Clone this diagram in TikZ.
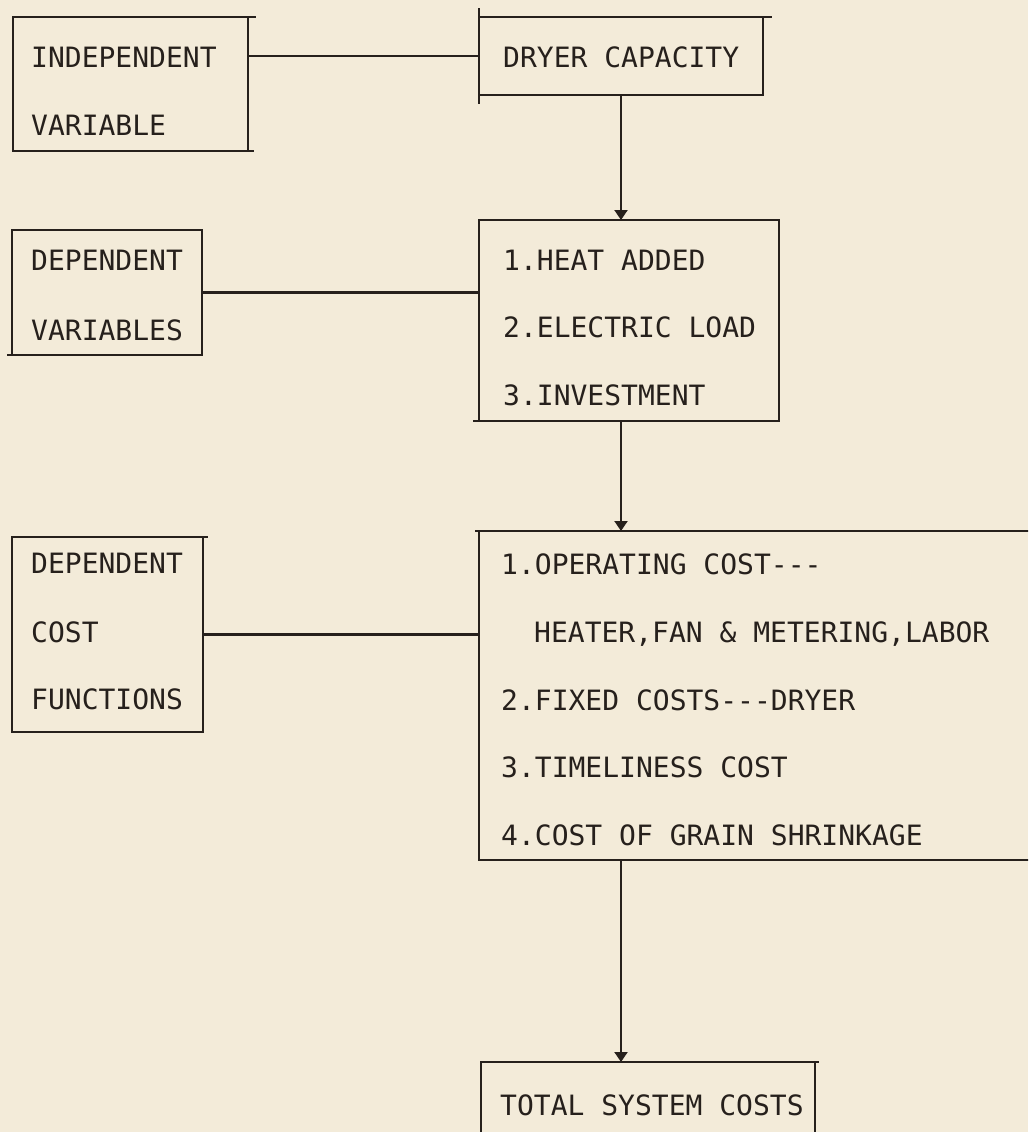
\documentclass[tikz,border=0pt]{standalone}
\usepackage{fontspec}
\setmonofont{DejaVu Sans Mono}
\usetikzlibrary{arrows.meta,calc}
\definecolor{paper}{RGB}{243,235,217}
\definecolor{ink}{RGB}{38,32,28}
\begin{document}
\begin{tikzpicture}[x=1pt,y=-1pt,
  box/.style={draw=ink,line width=2.6pt,inner sep=0pt,outer sep=0pt,anchor=north west},
  tick/.style={draw=ink,line width=2.4pt},
  txt/.style={anchor=base west,inner sep=0pt,text=ink,font=\ttfamily\fontsize{28}{33}\selectfont},
  link/.style={draw=ink,line width=2.2pt},
  flow/.style={draw=ink,line width=2pt,-{Triangle[width=13pt,length=10pt]}}]
\fill[paper] (0,0) rectangle (1028,1132);
\clip (0,0) rectangle (1028,1132);

% boxes
\node[box,minimum width=235pt,minimum height=134pt] (A) at (13,17) {};
\node[box,minimum width=284pt,minimum height=78pt]  (B) at (479,17) {};
\node[box,minimum width=300pt,minimum height=201pt] (C) at (479,220) {};
\node[box,minimum width=190pt,minimum height=125pt] (D) at (12,230) {};
\node[box,minimum width=600pt,minimum height=329pt] (E) at (479,531) {};
\node[box,minimum width=191pt,minimum height=195pt] (F) at (12,537) {};
\node[box,minimum width=334pt,minimum height=100pt] (G) at (481,1062) {};

% small overshoots of the hand-drawn corners
\draw[tick] (A.north east) -- ++(8,0);
\draw[tick] (A.south east) -- ++(6,0);
\draw[tick] (B.north west) -- ++(0,-9);
\draw[tick] (B.south west) -- ++(0,9);
\draw[tick] (B.north east) -- ++(9,0);
\draw[tick] (C.south west) -- ++(-6,0);
\draw[tick] (D.south west) -- ++(-5,0);
\draw[tick] (E.north west) -- ++(-4,0);
\draw[tick] (F.north east) -- ++(5,0);
\draw[tick] (G.north east) -- ++(4,0);

% texts
\node[txt] (a1) at (31,67)  {INDEPENDENT};
\node[txt] (a2) at (31,135) {VARIABLE};
\node[txt] (b1) at (503,67) {DRYER CAPACITY};
\node[txt] (c1) at (503,270) {1.HEAT ADDED};
\node[txt] (c2) at (503,337) {2.ELECTRIC LOAD};
\node[txt] (c3) at (503,405) {3.INVESTMENT};
\node[txt] (d1) at (31,270) {DEPENDENT};
\node[txt] (d2) at (31,340) {VARIABLES};
\node[txt] (e1) at (501,574) {1.OPERATING COST-{}-{}-};
\node[txt] (e2) at (534,642) {HEATER,FAN \& METERING,LABOR};
\node[txt] (e3) at (501,710) {2.FIXED COSTS-{}-{}-DRYER};
\node[txt] (e4) at (501,777) {3.TIMELINESS COST};
\node[txt] (e5) at (501,845) {4.COST OF GRAIN SHRINKAGE};
\node[txt] (f1) at (31,573) {DEPENDENT};
\node[txt] (f2) at (31,642) {COST};
\node[txt] (f3) at (31,709) {FUNCTIONS};
\node[txt] (g1) at (500,1115) {TOTAL SYSTEM COSTS};

% connectors
\draw[link] (A.east |- B.west) -- (B.west);
\draw[link] (D.east) -- (D.east -| C.west);
\draw[link] (F.east) -- (F.east -| E.west);
\draw[flow] (B.south) -- (B.south |- C.north);
\draw[flow] (C.south -| B.south) -- (B.south |- E.north);
\draw[flow] (E.south -| B.south) -- (B.south |- G.north);
\end{tikzpicture}
\end{document}
